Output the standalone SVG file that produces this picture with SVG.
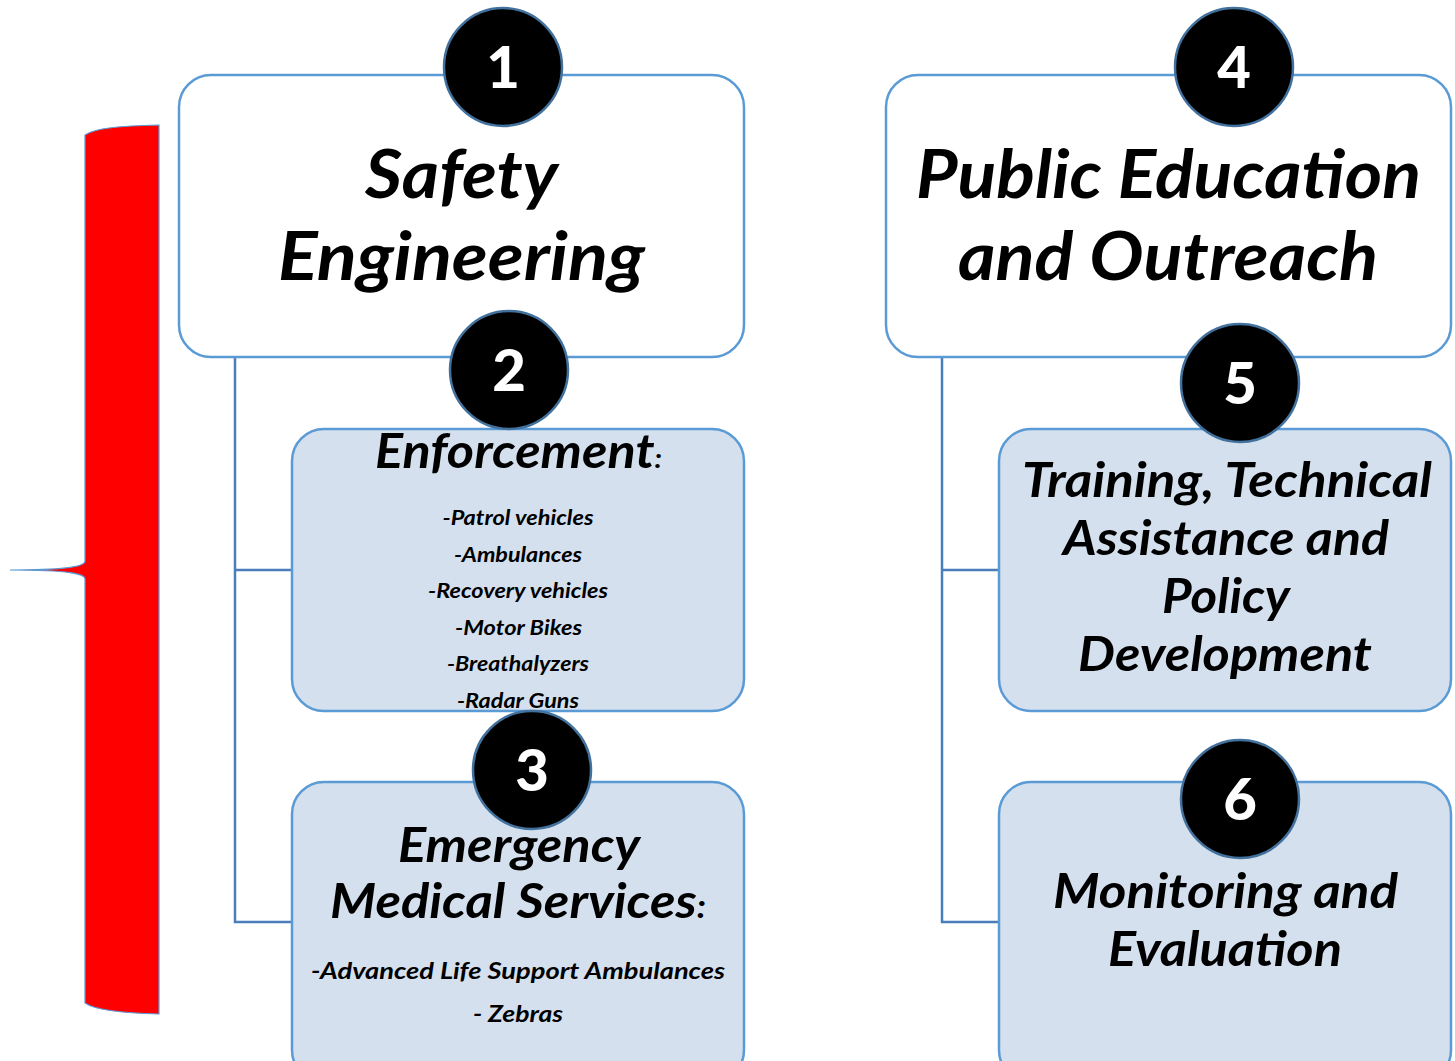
<svg xmlns="http://www.w3.org/2000/svg" width="1455" height="1061" viewBox="0 0 1455 1061">
<style>
.box{stroke:#5b9bd5;stroke-width:2.5}
.top{fill:#ffffff}
.sub{fill:#d5e0ef}
.circ{fill:#000;stroke:#41719c;stroke-width:2.5}
.num{font-family:Lato,"Liberation Sans",sans-serif;font-weight:900;font-size:58px;fill:#fff;text-anchor:middle}
.t{font-family:Lato,"Liberation Sans",sans-serif;font-weight:bold;font-style:italic;fill:#000;text-anchor:middle}
.big{font-size:67px}
.mid{font-size:47px}
.sm{font-size:21px}
.sm2{font-size:23px}
.conn{stroke:#4a7ebb;stroke-width:2.5;fill:none}
</style>
<rect width="1455" height="1061" fill="#fff"/>
<g id="brace">
<path d="M159,125 C120,126 95,128 85,135 L85,561 C85,566 70,570 10,570 C70,570 85,574 85,579 L85,1003 C95,1010 120,1013 159,1014 Z" fill="#ff0000" stroke="#5b9bd5" stroke-width="1.2"/>
</g>
<g id="connectors">
<path class="conn" d="M235,357 V922 H292 M235,570 H292"/>
<path class="conn" d="M942,357 V922 H999 M942,570 H999"/>
</g>
<g id="node1">
<rect class="box top" x="179" y="75" width="565" height="282" rx="32"/>
<text class="t big" x="461.5" y="198" textLength="193" lengthAdjust="spacingAndGlyphs">Safety</text>
<text class="t big" x="461.5" y="280" textLength="367" lengthAdjust="spacingAndGlyphs">Engineering</text>
</g>
<g id="node2">
<rect class="box sub" x="292" y="429" width="452" height="282" rx="32"/>
<text class="t mid" x="518.5" y="468" textLength="287" lengthAdjust="spacingAndGlyphs">Enforcement<tspan font-size="26">:</tspan></text>
<text class="t sm" x="518" y="525" textLength="151" lengthAdjust="spacingAndGlyphs">-Patrol vehicles</text>
<text class="t sm" x="518" y="562" textLength="128" lengthAdjust="spacingAndGlyphs">-Ambulances</text>
<text class="t sm" x="518" y="598" textLength="180" lengthAdjust="spacingAndGlyphs">-Recovery vehicles</text>
<text class="t sm" x="518.5" y="635" textLength="127" lengthAdjust="spacingAndGlyphs">-Motor Bikes</text>
<text class="t sm" x="518" y="671" textLength="142" lengthAdjust="spacingAndGlyphs">-Breathalyzers</text>
<text class="t sm" x="518" y="708" textLength="122" lengthAdjust="spacingAndGlyphs">-Radar Guns</text>
</g>
<g id="node3">
<rect class="box sub" x="292" y="782" width="452" height="300" rx="32"/>
<text class="t mid" x="519" y="862" textLength="242" lengthAdjust="spacingAndGlyphs">Emergency</text>
<text class="t mid" x="518" y="918" textLength="376" lengthAdjust="spacingAndGlyphs">Medical Services<tspan font-size="32">:</tspan></text>
<text class="t sm2" x="518" y="979" textLength="414" lengthAdjust="spacingAndGlyphs">-Advanced Life Support Ambulances</text>
<text class="t sm2" x="518" y="1022" textLength="90" lengthAdjust="spacingAndGlyphs">- Zebras</text>
</g>
<g id="node4">
<rect class="box top" x="886" y="75" width="565" height="282" rx="32"/>
<text class="t big" x="1168.5" y="198" textLength="505" lengthAdjust="spacingAndGlyphs">Public Education</text>
<text class="t big" x="1168" y="280" textLength="420" lengthAdjust="spacingAndGlyphs">and Outreach</text>
</g>
<g id="node5">
<rect class="box sub" x="999" y="429" width="452" height="282" rx="32"/>
<text class="t mid" x="1227" y="497" textLength="410" lengthAdjust="spacingAndGlyphs">Training, Technical</text>
<text class="t mid" x="1226" y="555" textLength="326" lengthAdjust="spacingAndGlyphs">Assistance and</text>
<text class="t mid" x="1226" y="613" textLength="128" lengthAdjust="spacingAndGlyphs">Policy</text>
<text class="t mid" x="1225" y="671" textLength="294" lengthAdjust="spacingAndGlyphs">Development</text>
</g>
<g id="node6">
<rect class="box sub" x="999" y="782" width="452" height="300" rx="32"/>
<text class="t mid" x="1225.5" y="908" textLength="345" lengthAdjust="spacingAndGlyphs">Monitoring and</text>
<text class="t mid" x="1225" y="966" textLength="234" lengthAdjust="spacingAndGlyphs">Evaluation</text>
</g>
<g id="badges">
<g id="badge1"><circle class="circ" cx="503" cy="67" r="59"/><text class="num" x="503" y="88">1</text></g>
<g id="badge2"><circle class="circ" cx="509" cy="370" r="59"/><text class="num" x="509" y="391">2</text></g>
<g id="badge3"><circle class="circ" cx="532" cy="770" r="59"/><text class="num" x="532" y="791">3</text></g>
<g id="badge4"><circle class="circ" cx="1234" cy="67" r="59"/><text class="num" x="1234" y="88">4</text></g>
<g id="badge5"><circle class="circ" cx="1240" cy="383" r="59"/><text class="num" x="1240" y="404">5</text></g>
<g id="badge6"><circle class="circ" cx="1240" cy="799" r="59"/><text class="num" x="1240" y="820">6</text></g>
</g>
</svg>
